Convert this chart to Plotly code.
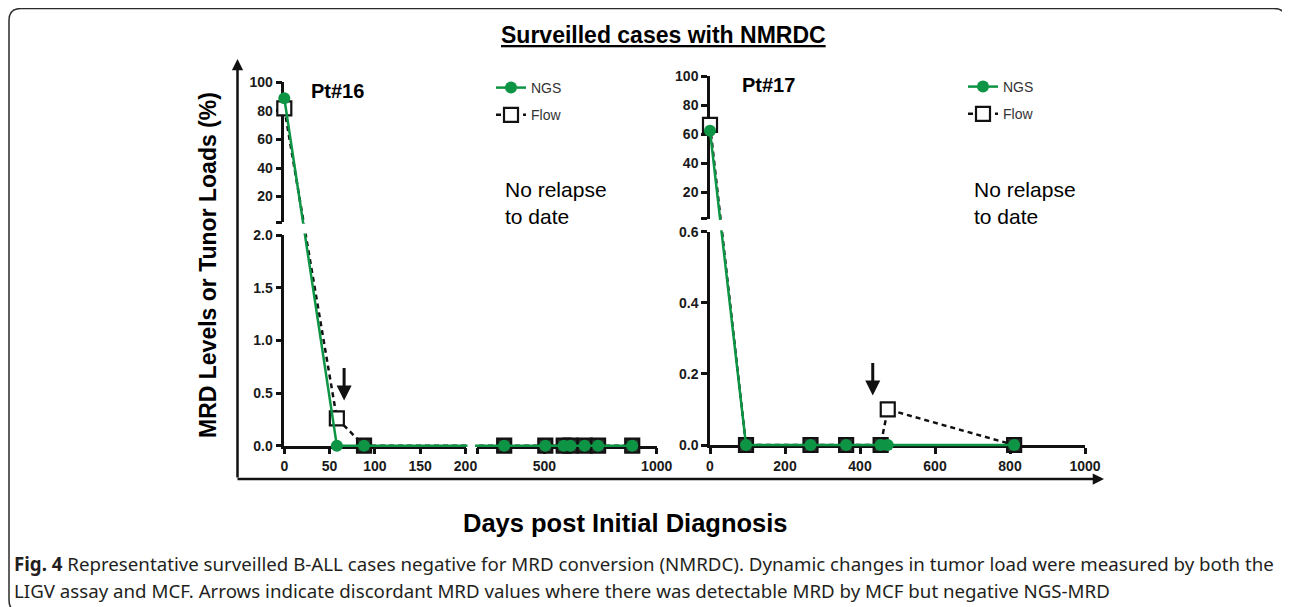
import plotly.graph_objects as go

# page is shown with the browser's default 8px body margin; layout constants below are
# page pixels of the reference picture, converted to figure fractions by fx / fy.
PAGE_OFF = 8
W, H = 1290 - PAGE_OFF, 607 - PAGE_OFF

# ---------------- data ----------------
p1_days_ngs = [0, 58, 88, 321, 504, 586, 616, 679, 739, 891]
p1_ngs = [88.8, 0, 0, 0, 0, 0, 0, 0, 0, 0]
p1_days_flow = [0, 58, 88, 321, 504, 586, 616, 679, 739, 891]
p1_flow = [81.8, 0.26, 0, 0, 0, 0, 0, 0, 0, 0]

p2_days_ngs = [0, 96, 268, 363, 455, 474, 811]
p2_ngs = [62.3, 0, 0, 0, 0, 0, 0]
p2_days_flow = [0, 96, 268, 363, 455, 474, 811]
p2_flow = [66.4, 0, 0, 0, 0, 0.1, 0]

p1_xticks_a = [0, 50, 100, 150, 200]
p1_xticks_b = [500, 1000]
p1_yticks_low = [0.0, 0.5, 1.0, 1.5, 2.0]
yticks_high = [20, 40, 60, 80, 100]
p2_xticks = [0, 200, 400, 600, 800, 1000]
p2_yticks_low = [0.0, 0.2, 0.4, 0.6]

# discordant points pointed at by arrows (day, value)
p1_arrow = (66, 0.43)
p2_arrow = (434, 0.139)

# ---------------- broken-axis layout (data range -> pixel range) ----------------
P1X = [(0, 200, 284.3, 465.5), (200, 1000, 477.0, 656.7)]
P1Y = [(0, 2, 445.7, 235.0), (2, 100, 222.3, 82.3)]
P2X = [(0, 1000, 710.0, 1085.0)]
P2Y = [(0, 0.6, 445.0, 231.7), (2, 100, 218.5, 76.0)]


def scale(v, segs):
    for d0, d1, p0, p1 in segs:
        if d0 <= v <= d1:
            return p0 + (v - d0) / (d1 - d0) * (p1 - p0)
    best = min(segs, key=lambda s: min(abs(v - s[0]), abs(v - s[1])))
    d0, d1, p0, p1 = best
    return p0 + (v - d0) / (d1 - d0) * (p1 - p0)


def fx(p):
    return (p - PAGE_OFF) / W


def fy(p):
    return 1 - (p - PAGE_OFF) / H


GREEN = '#0d9444'
BLACK = '#111111'
FONT = 'Liberation Sans, Arial, sans-serif'
TICKFONT = dict(family=FONT, size=14, color='#1a1a1a', weight='bold')

fig = go.Figure()

# empty traces so each tick/line subplot exists
for xa, ya in [('x', 'y'), ('x', 'y2'), ('x2', 'y'), ('x3', 'y3'), ('x3', 'y4')]:
    fig.add_trace(go.Scatter(x=[None], y=[None], xaxis=xa, yaxis=ya, showlegend=False, hoverinfo='skip'))


def add_panel(days_ngs, ngs, days_flow, flow, sx, sy, legend):
    fig.add_trace(go.Scatter(
        x=[scale(d, sx) for d in days_flow], y=[scale(v, sy) for v in flow],
        customdata=list(zip(days_flow, flow)),
        mode='lines+markers', name='Flow', legend=legend, legendgroup=legend + 'f', legendrank=2,
        line=dict(color=BLACK, width=2.5, dash='5px,4px'),
        marker=dict(symbol='square', size=14,
                    color=['white' if v > 0 else '#2a2a2a' for v in flow],
                    line=dict(color=BLACK, width=2.2)),
        cliponaxis=False, xaxis='x4', yaxis='y5',
        hovertemplate='Flow day %{customdata[0]}: %{customdata[1]}%<extra></extra>'))
    fig.add_trace(go.Scatter(
        x=[scale(d, sx) for d in days_ngs], y=[scale(v, sy) for v in ngs],
        customdata=list(zip(days_ngs, ngs)),
        mode='lines+markers', name='NGS', legend=legend, legendgroup=legend + 'n', legendrank=1,
        line=dict(color=GREEN, width=2.5),
        marker=dict(symbol='circle', size=12, color=GREEN, line=dict(width=0)),
        cliponaxis=False, xaxis='x4', yaxis='y5',
        hovertemplate='NGS day %{customdata[0]}: %{customdata[1]}%<extra></extra>'))


add_panel(p1_days_ngs, p1_ngs, p1_days_flow, p1_flow, P1X, P1Y, 'legend')
add_panel(p2_days_ngs, p2_ngs, p2_days_flow, p2_flow, P2X, P2Y, 'legend2')

ax_common = dict(showline=True, linecolor=BLACK, linewidth=2.5, ticks='outside', ticklen=6,
                 tickwidth=2.5, tickcolor=BLACK, showgrid=False, zeroline=False,
                 tickfont=TICKFONT, fixedrange=True, automargin=False)


def fmt1(v):
    return f'{v:.1f}'


layout_axes = dict(
    xaxis=dict(ax_common, domain=[fx(P1X[0][2]), fx(P1X[0][3])], range=[0, 200], anchor='y',
               tickvals=p1_xticks_a, ticktext=[str(v) for v in p1_xticks_a]),
    xaxis2=dict(ax_common, domain=[fx(P1X[1][2]), fx(P1X[1][3])], range=[200, 1000], anchor='y',
                tickvals=[200] + p1_xticks_b, ticktext=[''] + [str(v) for v in p1_xticks_b]),
    yaxis=dict(ax_common, domain=[fy(P1Y[0][2]), fy(P1Y[0][3])], range=[0, 2], anchor='x',
               tickvals=p1_yticks_low, ticktext=[fmt1(v) for v in p1_yticks_low]),
    yaxis2=dict(ax_common, domain=[fy(P1Y[1][2]), fy(P1Y[1][3])], range=[2, 100], anchor='x',
                tickvals=[2] + yticks_high, ticktext=[''] + [str(v) for v in yticks_high]),
    xaxis3=dict(ax_common, domain=[fx(P2X[0][2]), fx(P2X[0][3])], range=[0, 1000], anchor='y3',
                tickvals=p2_xticks, ticktext=[str(v) for v in p2_xticks]),
    yaxis3=dict(ax_common, domain=[fy(P2Y[0][2]), fy(P2Y[0][3])], range=[0, 0.6], anchor='x3',
                tickvals=p2_yticks_low, ticktext=[fmt1(v) for v in p2_yticks_low]),
    yaxis4=dict(ax_common, domain=[fy(P2Y[1][2]), fy(P2Y[1][3])], range=[2, 100], anchor='x3',
                tickvals=[2] + yticks_high, ticktext=[''] + [str(v) for v in yticks_high]),
    xaxis4=dict(domain=[0, 1], range=[PAGE_OFF, PAGE_OFF + W], anchor='y5', visible=False,
                fixedrange=True, automargin=False),
    yaxis5=dict(domain=[0, 1], range=[PAGE_OFF + H, PAGE_OFF], anchor='x4', visible=False,
                fixedrange=True, automargin=False),
)

legend_common = dict(xanchor='left', yanchor='top', bgcolor='rgba(0,0,0,0)',
                     font=dict(family=FONT, size=14, color='#333333'),
                     traceorder='grouped', tracegroupgap=6, itemwidth=30)

ann = []


def label(text, x, y, size, xanchor='center', angle=0, family=FONT, color='#000', align='center'):
    ann.append(dict(text=text, x=fx(x), y=fy(y), xref='paper', yref='paper', showarrow=False,
                    xanchor=xanchor, yanchor='middle', textangle=angle, align=align,
                    font=dict(family=family, size=size, color=color)))


label('<u><b>Surveilled cases with NMRDC</b></u>', 663, 35, 23)
label('<b>Pt#16</b>', 309, 91, 20, xanchor='left')
label('<b>Pt#17</b>', 740, 85, 20, xanchor='left')
label('No relapse<br>to date', 503, 203, 21, xanchor='left', align='left')
label('No relapse<br>to date', 972, 203, 21, xanchor='left', align='left')
label('<b>MRD Levels or Tunor Loads (%)</b>', 208, 265, 23, angle=-90)
label('<b>Days post Initial Diagnosis</b>', 625, 523, 25.5)
CAPF = 'Noto Sans, Open Sans, sans-serif'
label('<b>Fig. 4</b> Representative surveilled B-ALL cases negative for MRD conversion (NMRDC). '
      'Dynamic changes in tumor load were measured by both the', 12, 563, 18.7, xanchor='left',
      family=CAPF, color='#231f20')
label('LIGV assay and MCF. Arrows indicate discordant MRD values where there was detectable '
      'MRD by MCF but negative NGS-MRD', 12, 590, 18.7, xanchor='left', family=CAPF, color='#231f20')

# big outer axis arrows
ann.append(dict(text='', x=fx(237.5), y=fy(59), xref='paper', yref='paper', ax=0, ay=420,
                showarrow=True, arrowhead=2, arrowsize=0.9, arrowwidth=2.5, arrowcolor=BLACK))
ann.append(dict(text='', x=fx(1104), y=fy(479), xref='paper', yref='paper', ax=-868, ay=0,
                showarrow=True, arrowhead=2, arrowsize=0.9, arrowwidth=2.5, arrowcolor=BLACK))
# discordance arrows
for (d, v), sx, sy in [(p1_arrow, P1X, P1Y), (p2_arrow, P2X, P2Y)]:
    ann.append(dict(text='', x=scale(d, sx), y=scale(v, sy), xref='x4', yref='y5', ax=0, ay=-34,
                    showarrow=True, arrowhead=2, arrowsize=1, arrowwidth=3, arrowcolor=BLACK))

shapes = []
# white masks in the axis breaks
shapes.append(dict(type='rect', xref='paper', yref='paper', layer='above',
                   x0=fx(P1X[0][2] + 2), x1=fx(P1X[0][2] + 60),
                   y0=fy(P1Y[1][2] + 1.5), y1=fy(P1Y[0][3] - 1.5),
                   fillcolor='white', line=dict(width=0)))
shapes.append(dict(type='rect', xref='paper', yref='paper', layer='above',
                   x0=fx(P2X[0][2] + 2), x1=fx(P2X[0][2] + 60),
                   y0=fy(P2Y[1][2] + 1.5), y1=fy(P2Y[0][3] - 1.5),
                   fillcolor='white', line=dict(width=0)))
shapes.append(dict(type='rect', xref='paper', yref='paper', layer='above',
                   x0=fx(P1X[0][3] + 2), x1=fx(P1X[1][2] - 2),
                   y0=fy(P1Y[0][2] + 6), y1=fy(P1Y[0][2] - 6),
                   fillcolor='white', line=dict(width=0)))
# rounded outer frame
L, R, T, B, r = 9, 1286, 8.5, 612, 12
rx, ry = r / W, r / H
path = (f'M {fx(L)+rx},{fy(T)} L {fx(R)-rx},{fy(T)} Q {fx(R)},{fy(T)} {fx(R)},{fy(T)-ry} '
        f'L {fx(R)},{fy(B)+ry} Q {fx(R)},{fy(B)} {fx(R)-rx},{fy(B)} '
        f'L {fx(L)+rx},{fy(B)} Q {fx(L)},{fy(B)} {fx(L)},{fy(B)+ry} '
        f'L {fx(L)},{fy(T)-ry} Q {fx(L)},{fy(T)} {fx(L)+rx},{fy(T)} Z')
shapes.append(dict(type='path', path=path, xref='paper', yref='paper',
                   line=dict(color='#2b2b2b', width=1.5), fillcolor='rgba(0,0,0,0)'))

fig.update_layout(
    width=W, height=H, autosize=False,
    margin=dict(l=0, r=0, t=0, b=0, pad=0, autoexpand=False),
    paper_bgcolor='white', plot_bgcolor='rgba(0,0,0,0)',
    showlegend=True,
    legend=dict(legend_common, x=fx(491), y=fy(72)),
    legend2=dict(legend_common, x=fx(963), y=fy(71)),
    annotations=ann, shapes=shapes,
    **layout_axes,
)

fig.write_html('out.html')
